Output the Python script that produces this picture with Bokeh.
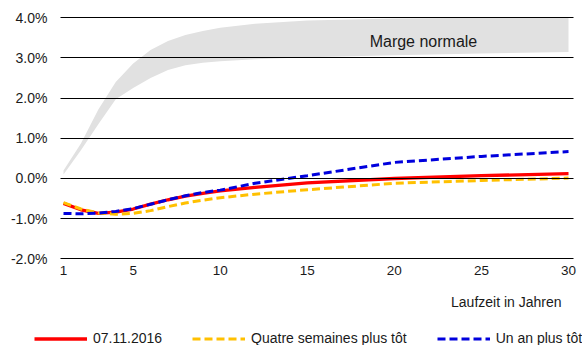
from bokeh.plotting import figure
from bokeh.models import (Range1d, FixedTicker, PrintfTickFormatter, Label, Legend, LegendItem)
from bokeh.embed import file_html
from bokeh.resources import INLINE

# Data (maturity in years, yields in %)
years = [1, 2, 3, 4, 5, 6, 7, 8, 9, 10, 12, 15, 20, 25, 30]
current = [-0.62, -0.78, -0.87, -0.84, -0.76, -0.64, -0.53, -0.44, -0.37, -0.31, -0.22, -0.11, 0.0, 0.07, 0.12]
four_weeks = [-0.60, -0.76, -0.86, -0.89, -0.87, -0.80, -0.70, -0.61, -0.54, -0.48, -0.39, -0.28, -0.12, -0.05, 0.01]
one_year = [-0.87, -0.88, -0.86, -0.82, -0.75, -0.64, -0.53, -0.43, -0.35, -0.29, -0.12, 0.07, 0.40, 0.55, 0.67]
band_upper = [0.2, 0.87, 1.72, 2.4, 2.86, 3.2, 3.42, 3.57, 3.67, 3.75, 3.85, 3.93, 3.98, 4.0, 4.02]
band_lower = [0.1, 0.7, 1.35, 1.97, 2.25, 2.5, 2.7, 2.82, 2.88, 2.92, 2.97, 3.02, 3.07, 3.11, 3.15]
x_ticks = [1, 5, 10, 15, 20, 25, 30]
y_ticks = [-2, -1, 0, 1, 2, 3, 4]
series_labels = ["07.11.2016", "Quatre semaines plus tôt", "Un an plus tôt"]
band_label = "Marge normale"
x_title = "Laufzeit in Jahren"

FONT = "Liberation Sans"
GRID_X = (0.8277, 30.287)

# frame covers the whole canvas; axes are placed with fixed_location
p = figure(width=582, height=345, output_backend="svg", toolbar_location=None,
           x_range=Range1d(-2.6178, 30.803), y_range=Range1d(-4.158, 4.431),
           min_border=0)
p.outline_line_color = None
p.background_fill_color = "white"
p.border_fill_color = "white"

# grid lines limited to the plotting area
p.xgrid.visible = False
grid = p.ygrid[0]
if "cross_bounds" in grid.properties():
    grid.ticker = FixedTicker(ticks=y_ticks)
    grid.grid_line_color = "black"
    grid.grid_line_width = 1
    grid.cross_bounds = GRID_X
    grid.level = "glyph"
else:
    grid.visible = False
    p.segment(x0=[GRID_X[0]] * len(y_ticks), x1=[GRID_X[1]] * len(y_ticks),
              y0=y_ticks, y1=y_ticks, line_color="black", line_width=1)

# axes
p.xaxis.ticker = FixedTicker(ticks=x_ticks)
p.yaxis.ticker = FixedTicker(ticks=y_ticks)
p.yaxis.formatter = PrintfTickFormatter(format="%.1f%%")
p.xaxis.fixed_location = -2.0
p.yaxis.fixed_location = GRID_X[0]
for ax in (p.xaxis[0], p.yaxis[0]):
    ax.axis_line_color = None
    ax.major_tick_line_color = None
    ax.minor_tick_line_color = None
    ax.major_tick_out = 0
    ax.major_tick_in = 0
    ax.major_label_text_font = FONT
    ax.major_label_text_color = "#1a1a1a"
p.yaxis.major_label_text_font_size = "14px"
p.yaxis.major_label_standoff = 13
p.xaxis.major_label_text_font_size = "13.5px"
p.xaxis.major_label_standoff = 7

# band
p.varea(x=years, y1=band_lower, y2=band_upper, fill_color="#e1e1e1", level="underlay")

r_red = p.line(years, current, line_color="#ff0000", line_width=3.3)
r_orange = p.line(years, four_weeks, line_color="#ffc000", line_width=3, line_dash="8 4")
r_blue = p.line(years, one_year, line_color="#0000dd", line_width=3, line_dash="8 4")

p.add_layout(Label(x=21.67, y=3.40, text=band_label, text_align="center", text_baseline="middle",
                   text_font=FONT, text_font_size="16px", text_color="#1a1a1a"))
p.add_layout(Label(x=29.6, y=-3.07, text=x_title, text_align="right", text_baseline="middle",
                   text_font=FONT, text_font_size="14px", text_color="#1a1a1a"))

legend = Legend(items=[LegendItem(label=series_labels[0], renderers=[r_red]),
                       LegendItem(label=series_labels[1], renderers=[r_orange]),
                       LegendItem(label=series_labels[2], renderers=[r_blue])],
                location=(34, -1), orientation="horizontal",
                glyph_width=53, glyph_height=15, label_height=15, label_standoff=6, spacing=30,
                padding=0, margin=0, border_line_color=None, background_fill_alpha=0,
                label_text_font=FONT, label_text_font_size="14px", label_text_color="#1a1a1a")
p.add_layout(legend, "center")

open("out.html", "w").write(file_html(p, INLINE))
